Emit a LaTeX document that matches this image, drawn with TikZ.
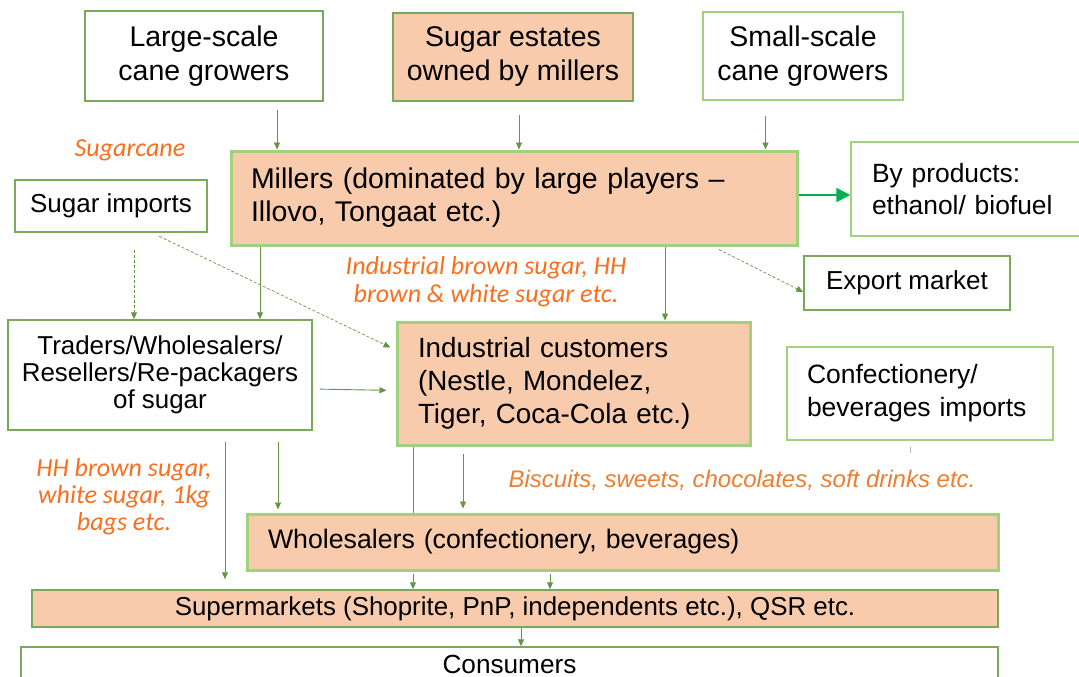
\documentclass[tikz,border=0pt]{standalone}
\usepackage{fontspec}
\setmainfont{Liberation Sans}
\newfontfamily\calfont{Carlito}
\usetikzlibrary{arrows.meta}
\definecolor{peach}{RGB}{248,203,173}
\definecolor{midgreen}{RGB}{120,170,90}
\definecolor{lightgreen}{RGB}{160,210,125}
\definecolor{arrgreen}{RGB}{100,150,65}
\definecolor{brightgreen}{RGB}{0,176,80}
\definecolor{notecol}{RGB}{250,110,30}
\definecolor{biscol}{RGB}{237,125,49}

\begin{document}
\begin{tikzpicture}[x=1pt, y=-1pt,
    wbox/.style={draw=midgreen, line width=1.5pt, fill=white, inner sep=0pt, align=center},
    pbox/.style={draw=lightgreen, line width=3pt, fill=peach, inner sep=0pt, align=left},
    arr/.style={draw=arrgreen, line width=0.9pt, -{Triangle[length=7pt,width=6pt]}},
    darr/.style={arr, line width=0.7pt, dash pattern=on 3pt off 2pt},
    barr/.style={draw=brightgreen, line width=2pt, -{Triangle[length=14pt,width=14pt]}},
    note/.style={text=notecol, font=\calfont\itshape\fontsize{26}{28}\selectfont, align=center}]
  \useasboundingbox (0,0) rectangle (1079,677);
  \clip (0,0) rectangle (1079,677);
  \node[wbox, minimum width=238, minimum height=90, font=\fontsize{28.5}{34}\selectfont] (lsg) at (204,56) {Large-scale\\cane growers};
  \node[wbox, fill=peach, minimum width=240, minimum height=88, font=\fontsize{28.5}{34}\selectfont] (est) at (513,57) {Sugar estates\\owned by millers};
  \node[wbox, draw=lightgreen, minimum width=200, minimum height=88, font=\fontsize{28.5}{34}\selectfont] (ssg) at (803,56) {Small-scale\\cane growers};
  \node[pbox, text width=526, inner xsep=20pt, minimum height=94, font=\fontsize{28.5}{33}\selectfont] (mil) at (514,198) {Millers (dominated by large players --\\Illovo, Tongaat etc.)};
  \node[wbox, minimum width=192, minimum height=52, font=\fontsize{26}{30}\selectfont] (imp) at (111,206) {Sugar imports};
  \node[wbox, draw=lightgreen, align=left, text width=192, inner xsep=21pt, minimum height=94, font=\fontsize{26.4}{32}\selectfont] (byp) at (968,189) {By products:\\ethanol/ biofuel};
  \node[wbox, minimum width=206, minimum height=54, font=\fontsize{26}{30}\selectfont] (exp) at (907,283) {Export market};
  \node[wbox, minimum width=304, minimum height=110, font=\fontsize{25.9}{27}\selectfont] (trd) at (160,375) {Traders/Wholesalers/\\Resellers/Re-packagers\\of sugar};
  \node[pbox, text width=311, inner xsep=21pt, minimum height=123, font=\fontsize{27.8}{33}\selectfont] (ind) at (573.5,383.5) {Industrial customers\\(Nestle, Mondelez,\\Tiger, Coca-Cola etc.)};
  \node[wbox, draw=lightgreen, align=left, text width=226, inner xsep=20pt, minimum height=93, font=\fontsize{26.5}{33}\selectfont] (cnf) at (920,393.5) {Confectionery/\\beverages imports};
  \node[pbox, text width=709, inner xsep=21pt, minimum height=56, font=\fontsize{26.7}{30}\selectfont] (whl) at (622.5,542) {Wholesalers (confectionery, beverages)};
  \node[wbox, fill=peach, minimum width=966, minimum height=37, font=\fontsize{25.9}{30}\selectfont] (sup) at (515,608.5) {Supermarkets (Shoprite, PnP, independents etc.), QSR etc.};
  \node[wbox, minimum width=977, minimum height=34, font=\fontsize{26.2}{30}\selectfont] (con) at (509.5,664) {Consumers};
  \node[note] (lcane) at (130,150) {Sugarcane};
  \node[note] (lind) at (486,282) {Industrial brown sugar, HH\\brown \& white sugar etc.};
  \node[note, font=\calfont\itshape\fontsize{26}{27}\selectfont] (lhh) at (124,497) {HH brown sugar,\\white sugar, 1kg\\bags etc.};
  \node[text=biscol, font=\itshape\fontsize{24}{28}\selectfont] (lbis) at (742,480) {Biscuits, sweets, chocolates, soft drinks etc.};
  \draw[arr, shorten <=8pt] ([xshift=73pt]lsg.south) -- ([xshift=73pt]lsg.south |- mil.north);
  \draw[arr, shorten <=13pt] ([xshift=6pt]est.south) -- ([xshift=6pt]est.south |- mil.north);
  \draw[arr, shorten <=15pt] ([xshift=-37.5pt]ssg.south) -- ([xshift=-37.5pt]ssg.south |- mil.north);
  \draw[barr] ([yshift=3pt]mil.east) -- ([yshift=3pt]mil.east -| byp.west);
  \draw[darr] ([xshift=205pt,yshift=-3pt]mil.south) -- ([yshift=-9pt]exp.west);
  \draw[arr] ([xshift=151pt]mil.south) -- ([xshift=151pt]mil.south |- ind.north);
  \draw[arr] ([xshift=-254pt]mil.south) -- ([xshift=-254pt]mil.south |- trd.north);
  \draw[darr, shorten <=17pt] ([xshift=23pt]imp.south) -- ([xshift=23pt]imp.south |- trd.north);
  \draw[darr, shorten <=8pt] ([xshift=41pt]imp.south) -- ([xshift=-5pt,yshift=36pt]ind.west);
  \draw[arr, shorten <=7pt, shorten >=9pt] ([yshift=-14pt]trd.east) -- ([yshift=-7pt]ind.west);
  \draw[arr, shorten <=11pt, shorten >=3pt] ([xshift=118pt]trd.south) -- ([xshift=118pt]trd.south |- whl.north);
  \draw[arr, shorten <=11pt, shorten >=10pt] ([xshift=65pt]trd.south) -- ([xshift=65pt]trd.south |- sup.north);
  \draw[draw=arrgreen, line width=0.9pt] ([xshift=-160.5pt]ind.south) -- ([xshift=-160.5pt]ind.south |- whl.north);
  \draw[arr, shorten <=7pt, shorten >=4pt] ([xshift=-110.5pt]ind.south) -- ([xshift=-110.5pt]ind.south |- whl.north);
  \draw[arr, shorten <=2pt] ([xshift=-209.5pt]whl.south) -- ([xshift=-209.5pt]whl.south |- sup.north);
  \draw[arr, shorten <=2pt] ([xshift=-72.5pt]whl.south) -- ([xshift=-72.5pt]whl.south |- sup.north);
  \draw[arr] ([xshift=6pt]sup.south) -- ([xshift=6pt]sup.south |- con.north);
  \draw[gray!60, line width=0.6pt] ([xshift=-10pt,yshift=-6pt]cnf.south) -- ([xshift=-10pt,yshift=-12pt]cnf.south);
\end{tikzpicture}
\end{document}
